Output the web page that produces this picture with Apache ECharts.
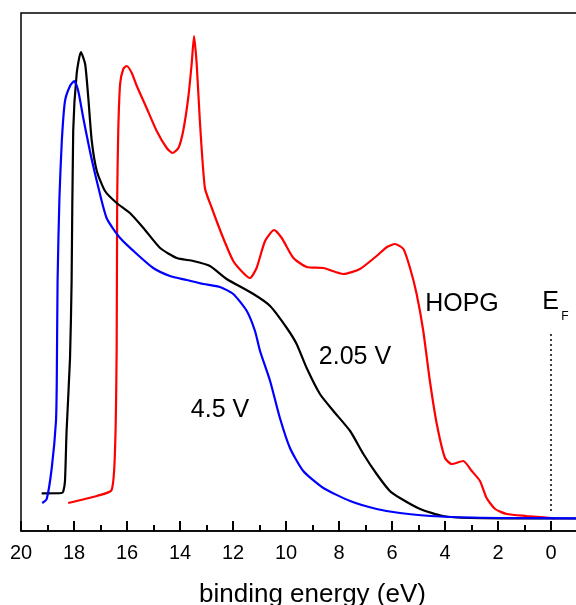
<!DOCTYPE html>
<html>
<head>
<meta charset="utf-8">
<script src="https://cdn.jsdelivr.net/npm/echarts@6/dist/echarts.min.js"></script>
<style>
  html, body { margin: 0; padding: 0; background: #fff; }
  #chart { width: 576px; height: 605px; }
</style>
</head>
<body>
<div id="chart"></div>
<script>
// binding energy (eV) and intensity (arb. units)
var hopgE = [18.22, 17.14, 16.58, 16.45, 16.39, 16.37, 16.33, 16.26, 16.14, 16.01, 15.82, 15.63, 15.26, 14.88, 14.50, 14.28, 14.06, 13.88, 13.69, 13.56, 13.47, 13.37, 13.25, 13.06, 12.80, 12.37, 11.99, 11.61, 11.36, 11.11, 10.79, 10.45, 10.16, 9.72, 9.22, 8.59, 7.84, 7.21, 6.58, 6.19, 5.89, 5.57, 5.32, 5.07, 4.82, 4.57, 4.31, 4.00, 3.75, 3.31, 2.99, 2.68, 2.43, 2.11, 1.67, 0.92, 0.16, -0.15];
var hopgI = [28, 35, 41, 83, 183, 333, 400, 447, 462, 465, 458, 445, 423, 400, 383, 378, 383, 400, 433, 467, 495, 467, 410, 343, 323, 293, 270, 258, 253, 263, 290, 301, 293, 273, 264, 263, 257, 262, 275, 284, 287, 282, 263, 237, 200, 150, 107, 73, 67, 70, 60, 50, 33, 22, 17, 15, 13.3, 12.7];

var v205E = [19.22, 18.46, 18.40, 18.34, 18.28, 18.15, 18.09, 18.03, 17.90, 17.74, 17.58, 17.46, 17.33, 17.14, 16.83, 16.39, 15.89, 15.38, 14.75, 14.12, 13.50, 12.87, 12.24, 11.23, 10.60, 9.97, 9.60, 9.22, 8.72, 8.21, 7.58, 7.08, 6.58, 6.08, 5.70, 4.94, 4.08, 3.06, 0, -1];
var v205I = [37.7, 38, 40, 50, 100, 173, 250, 400, 457, 479, 467, 433, 390, 360, 340, 328, 318, 303, 283, 273, 270, 265, 252, 237, 225, 203, 187, 163, 137, 120, 100, 77, 57, 40, 33, 22, 15, 13, 12.5, 12.5];

var v45E = [19.20, 19.03, 18.84, 18.68, 18.65, 18.62, 18.55, 18.46, 18.34, 18.15, 17.99, 17.84, 17.65, 17.40, 17.14, 16.77, 16.26, 15.63, 15.01, 14.38, 13.75, 13.12, 12.49, 11.99, 11.48, 11.17, 10.98, 10.60, 10.23, 9.85, 9.35, 8.59, 7.58, 6.58, 5.70, 4.19, 1.92, -1];
var v45I = [28, 32, 63, 110, 150, 250, 333, 390, 430, 445, 450, 440, 413, 380, 350, 313, 293, 277, 263, 255, 251, 247, 244, 237, 220, 200, 180, 150, 113, 83, 60, 43, 30, 22, 18, 14.5, 13, 12.7];

// axis runs on past the right edge of the picture (to -2), so ticks start on an even value
var xMin = -2;
var xMax = 20;
var tickStep = 2;

function pairs(xs, ys) {
    var out = [];
    for (var i = 0; i < xs.length; i++) {
        out.push([xs[i], ys[i]]);
    }
    return out;
}

var chartDom = document.getElementById('chart');
var chart = echarts.init(chartDom);
var font = 'Liberation Sans, Arial, sans-serif';

var option = {
    animation: false,
    grid: {
        left: 21,
        top: 13,
        width: 583,
        bottom: 74,
        containLabel: false,
        outerBoundsMode: 'none',
        show: true,
        borderColor: '#000',
        borderWidth: 1.5
    },
    xAxis: {
        type: 'value',
        inverse: true,
        min: xMin,
        max: xMax,
        interval: tickStep,
        name: 'binding energy (eV)',
        nameLocation: 'middle',
        nameGap: 51,
        nameTextStyle: { color: '#000', fontSize: 26, fontFamily: font },
        axisLine: { show: true, onZero: false, lineStyle: { color: '#000', width: 1.5 } },
        axisTick: { show: true, inside: true, length: 10, lineStyle: { color: '#000', width: 2 } },
        minorTick: { show: true, splitNumber: 2, length: 6, lineStyle: { color: '#000', width: 2 } },
        axisLabel: {
            show: true, color: '#000', fontSize: 20, fontFamily: font, margin: 12,
            formatter: function (v) { return v < 0 ? '' : String(v); }
        },
        splitLine: { show: false }
    },
    yAxis: {
        type: 'value',
        min: 0,
        max: 518,
        show: false
    },
    series: [
        {
            name: 'HOPG',
            type: 'line',
            showSymbol: false,
            smooth: 0.2,
            lineStyle: { color: '#ff0000', width: 2.2 },
            data: pairs(hopgE, hopgI),
            markLine: {
                silent: true,
                symbol: 'none',
                label: { show: false },
                lineStyle: { color: '#000', type: [2, 3], width: 1.5 },
                data: [[{ coord: [0, 20] }, { coord: [0, 200] }]]
            }
        },
        {
            name: '2.05 V',
            type: 'line',
            showSymbol: false,
            smooth: 0.2,
            lineStyle: { color: '#000000', width: 2.2 },
            data: pairs(v205E, v205I)
        },
        {
            name: '4.5 V',
            type: 'line',
            showSymbol: false,
            smooth: 0.2,
            lineStyle: { color: '#0000ff', width: 2.2 },
            data: pairs(v45E, v45I)
        }
    ],
    graphic: [
        { type: 'text', x: 462, y: 304, style: { text: 'HOPG', fill: '#000', fontSize: 25, fontFamily: font, textAlign: 'center', textVerticalAlign: 'middle' } },
        { type: 'text', x: 355, y: 357, style: { text: '2.05 V', fill: '#000', fontSize: 25, fontFamily: font, textAlign: 'center', textVerticalAlign: 'middle' } },
        { type: 'text', x: 220, y: 410, style: { text: '4.5 V', fill: '#000', fontSize: 25, fontFamily: font, textAlign: 'center', textVerticalAlign: 'middle' } },
        { type: 'text', x: 550.5, y: 302.5, style: { text: 'E', fill: '#000', fontSize: 25, fontFamily: font, textAlign: 'center', textVerticalAlign: 'middle' } },
        { type: 'text', x: 565, y: 317, style: { text: 'F', fill: '#000', fontSize: 12, fontFamily: font, textAlign: 'center', textVerticalAlign: 'middle' } }
    ]
};

chart.setOption(option);
</script>
</body>
</html>
